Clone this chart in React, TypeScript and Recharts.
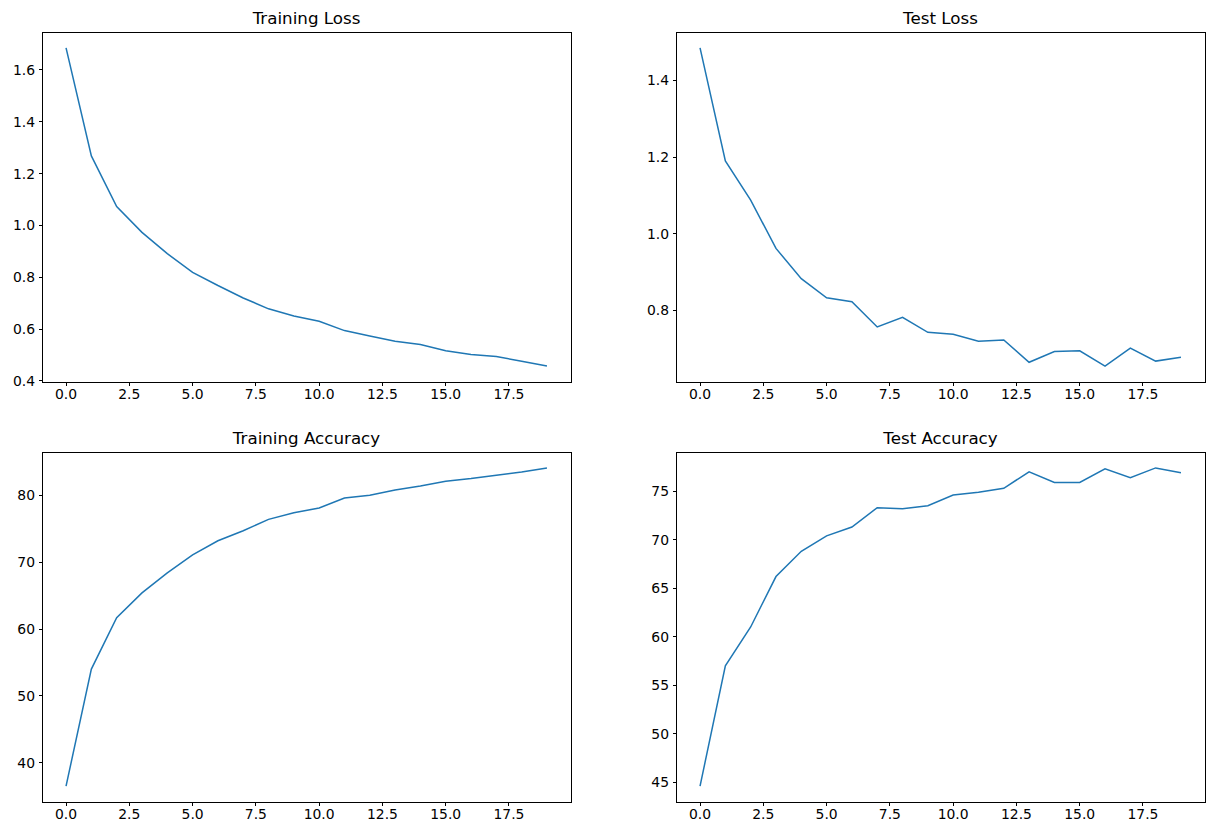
import { LineChart, Line, XAxis, YAxis, ReferenceArea } from 'recharts';

const epochs = [0, 1, 2, 3, 4, 5, 6, 7, 8, 9, 10, 11, 12, 13, 14, 15, 16, 17, 18, 19];

const trainLoss = [1.685, 1.268, 1.073, 0.973, 0.891, 0.819, 0.768, 0.72, 0.678, 0.65, 0.63, 0.594, 0.573, 0.553, 0.54, 0.516, 0.502, 0.494, 0.476, 0.457];
const testLoss = [1.485, 1.19, 1.088, 0.962, 0.883, 0.833, 0.823, 0.757, 0.782, 0.743, 0.738, 0.72, 0.723, 0.665, 0.693, 0.695, 0.655, 0.702, 0.668, 0.678];
const trainAcc = [36.5, 54.0, 61.7, 65.4, 68.4, 71.1, 73.2, 74.7, 76.4, 77.4, 78.1, 79.6, 80.0, 80.8, 81.4, 82.1, 82.5, 83.0, 83.5, 84.1];
const testAcc = [44.6, 57.0, 61.0, 66.2, 68.8, 70.4, 71.3, 73.3, 73.2, 73.5, 74.6, 74.9, 75.3, 77.0, 75.9, 75.9, 77.3, 76.4, 77.4, 76.9];

const xTicks = [0, 2.5, 5, 7.5, 10, 12.5, 15, 17.5];
const trainLossTicks = [0.4, 0.6, 0.8, 1.0, 1.2, 1.4, 1.6];
const testLossTicks = [0.8, 1.0, 1.2, 1.4];
const trainAccTicks = [40, 50, 60, 70, 80];
const testAccTicks = [45, 50, 55, 60, 65, 70, 75];

const FONT = '"DejaVu Sans", sans-serif';
const PLOT_W = 529;
const PLOT_H = 350;
const Y_AXIS_W = 42;
const TOP = 32;

interface PanelProps {
  title: string;
  values: number[];
  yTicks: number[];
  decimals: number;
  plotLeft: number;
  plotTop: number;
}

function Panel({ title, values, yTicks, decimals, plotLeft, plotTop }: PanelProps) {
  const data = epochs.map((e, i) => ({ epoch: e, value: values[i] }));
  // matplotlib-style 5% margins
  const lo = Math.min(...values);
  const hi = Math.max(...values);
  const pad = (hi - lo) * 0.05;
  const yDomain = [lo - pad, hi + pad];
  const xDomain = [-0.95, 19.95];
  const tickStyle = { fontSize: 13.9, fill: '#000', fontFamily: FONT };
  const tickLine = { stroke: '#000', strokeWidth: 1, shapeRendering: 'crispEdges' };

  return (
    <>
      <div
        style={{
          position: 'absolute',
          left: plotLeft,
          top: plotTop - TOP + 10,
          width: PLOT_W,
          textAlign: 'center',
          fontFamily: FONT,
          fontSize: 16.7,
          lineHeight: 1,
          color: '#000',
        }}
      >
        {title}
      </div>
      <div style={{ position: 'absolute', left: plotLeft - Y_AXIS_W, top: plotTop - TOP }}>
        <LineChart
          width={Y_AXIS_W + PLOT_W + 9}
          height={TOP + PLOT_H + 30}
          data={data}
          margin={{ top: TOP, right: 9, bottom: 0, left: 0 }}
        >
          <XAxis
            dataKey="epoch"
            type="number"
            domain={xDomain}
            ticks={xTicks}
            interval={0}
            allowDataOverflow
            height={30}
            axisLine={false}
            tickSize={3.5}
            tickMargin={3.5}
            tickLine={tickLine}
            tick={tickStyle}
            tickFormatter={(v: number) => v.toFixed(1)}
          />
          <YAxis
            type="number"
            domain={yDomain}
            ticks={yTicks}
            interval={0}
            allowDataOverflow
            width={Y_AXIS_W}
            axisLine={false}
            tickSize={3.5}
            tickMargin={3.5}
            tickLine={tickLine}
            tick={tickStyle}
            tickFormatter={(v: number) => v.toFixed(decimals)}
          />
          <Line
            dataKey="value"
            type="linear"
            stroke="#1f77b4"
            strokeWidth={1.5}
            dot={false}
            activeDot={false}
            isAnimationActive={false}
          />
          <ReferenceArea
            x1={xDomain[0]}
            x2={xDomain[1]}
            y1={yDomain[0]}
            y2={yDomain[1]}
            fill="none"
            stroke="#000"
            strokeWidth={1}
            shapeRendering="crispEdges"
            ifOverflow="visible"
          />
        </LineChart>
      </div>
    </>
  );
}

export default function App() {
  return (
    <div style={{ position: 'absolute', left: 0, top: 0, width: 1214, height: 836, background: '#fff' }}>
      <Panel title="Training Loss" values={trainLoss} yTicks={trainLossTicks} decimals={1} plotLeft={42} plotTop={32} />
      <Panel title="Test Loss" values={testLoss} yTicks={testLossTicks} decimals={1} plotLeft={676} plotTop={32} />
      <Panel title="Training Accuracy" values={trainAcc} yTicks={trainAccTicks} decimals={0} plotLeft={42} plotTop={452} />
      <Panel title="Test Accuracy" values={testAcc} yTicks={testAccTicks} decimals={0} plotLeft={676} plotTop={452} />
    </div>
  );
}
